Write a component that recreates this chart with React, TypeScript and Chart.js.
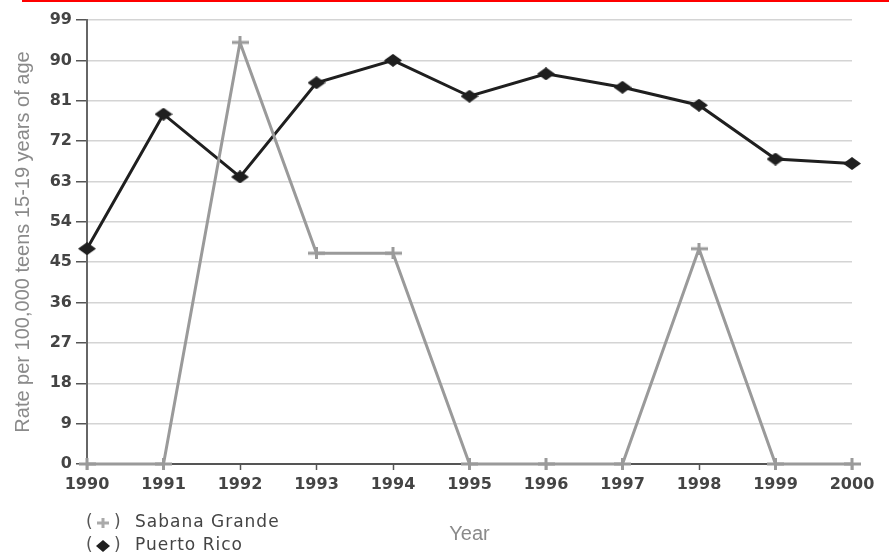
import { useEffect, useRef } from 'react';
import { Chart, registerables } from 'chart.js';

Chart.register(...registerables);

const years = ['1990', '1991', '1992', '1993', '1994', '1995', '1996', '1997', '1998', '1999', '2000'];
const sabanaGrande = [0, 0, 94, 47, 47, 0, 0, 0, 48, 0, 0];
const puertoRico = [48, 78, 64, 85, 90, 82, 87, 84, 80, 68, 67];
const yMin = 0;
const yMax = 99;
const yStep = 9;

const GRAY = '#9a9a9a';
const BLACK = '#1f1f1f';

function makeDiamond(w: number, h: number, color: string) {
  const c = document.createElement('canvas');
  c.width = w;
  c.height = h;
  const ctx = c.getContext('2d')!;
  ctx.fillStyle = color;
  ctx.beginPath();
  ctx.moveTo(w / 2, 0);
  ctx.lineTo(w, h / 2);
  ctx.lineTo(w / 2, h);
  ctx.lineTo(0, h / 2);
  ctx.closePath();
  ctx.fill();
  return c;
}

function makeCross(w: number, h: number, color: string, lw: number) {
  const c = document.createElement('canvas');
  c.width = w;
  c.height = h;
  const ctx = c.getContext('2d')!;
  ctx.strokeStyle = color;
  ctx.lineWidth = lw;
  ctx.beginPath();
  ctx.moveTo(0, h / 2);
  ctx.lineTo(w, h / 2);
  ctx.moveTo(w / 2, 0);
  ctx.lineTo(w / 2, h);
  ctx.stroke();
  return c;
}

const decorPlugin = {
  id: 'decor',
  afterDraw(chart: any) {
    const ctx = chart.ctx as CanvasRenderingContext2D;
    ctx.save();
    // top red rule
    ctx.fillStyle = '#ff0000';
    ctx.fillRect(22, 0, 889 - 22, 2);
    // custom legend
    const ds = chart.data.datasets;
    const rows = [523, 546];
    ctx.textBaseline = 'middle';
    ds.forEach((d: any, i: number) => {
      const y = rows[i];
      ctx.font = '17px "DejaVu Sans"';
      (ctx as any).letterSpacing = '0px';
      ctx.fillStyle = '#555';
      ctx.textAlign = 'left';
      ctx.fillText('(', 86, y);
      ctx.fillText(')', 114, y);
      if (i === 0) {
        ctx.strokeStyle = '#aaa';
        ctx.lineWidth = 3;
        ctx.beginPath();
        ctx.moveTo(97, y);
        ctx.lineTo(109, y);
        ctx.moveTo(103, y - 5);
        ctx.lineTo(103, y + 5);
        ctx.stroke();
      } else {
        ctx.fillStyle = BLACK;
        ctx.beginPath();
        ctx.moveTo(103, y - 6);
        ctx.lineTo(110, y);
        ctx.lineTo(103, y + 6);
        ctx.lineTo(96, y);
        ctx.closePath();
        ctx.fill();
      }
      (ctx as any).letterSpacing = '1px';
      ctx.fillStyle = '#444';
      ctx.fillText(d.label, 135, y);
    });
    ctx.restore();
  },
};

export default function App() {
  const ref = useRef<HTMLCanvasElement>(null);
  useEffect(() => {
    const canvas = ref.current!;
    const diamond = makeDiamond(18, 13, BLACK);
    const cross = makeCross(17, 12, GRAY, 3);
    const tickFont = { family: 'DejaVu Sans', size: 16, weight: 'bold' as const };
    const chart = new Chart(canvas, {
      type: 'line',
      data: {
        labels: years,
        datasets: [
          {
            label: 'Sabana Grande',
            data: sabanaGrande,
            borderColor: GRAY,
            backgroundColor: GRAY,
            borderWidth: 3,
            pointStyle: cross as any,
            pointRadius: 6,
            tension: 0,
            clip: false as any,
          },
          {
            label: 'Puerto Rico',
            data: puertoRico,
            borderColor: BLACK,
            backgroundColor: BLACK,
            borderWidth: 3,
            pointStyle: diamond as any,
            pointRadius: 7,
            tension: 0,
            clip: false as any,
          },
        ],
      },
      options: {
        responsive: false,
        animation: false,
        devicePixelRatio: 1,
        layout: { padding: { top: 20, right: 37, left: 0, bottom: 0 } },
        plugins: {
          legend: { display: false },
          tooltip: { enabled: false },
        },
        scales: {
          x: {
            type: 'category',
            offset: false,
            grid: {
              drawOnChartArea: false,
              drawTicks: true,
              tickLength: 6,
              tickColor: '#555',
              tickWidth: 1.5,
            },
            border: { color: '#555', width: 2 },
            ticks: {
              color: '#444',
              font: tickFont,
              padding: 5,
              maxRotation: 0,
              autoSkip: false,
            },
            title: {
              display: true,
              text: 'Year',
              color: '#8a8a8a',
              font: { family: 'Liberation Sans', size: 20 },
              padding: { top: 0, bottom: 8 },
            },
            afterFit: (s: any) => {
              s.height = 90;
            },
          },
          y: {
            min: yMin,
            max: yMax,
            ticks: {
              stepSize: yStep,
              color: '#444',
              font: tickFont,
              padding: 4,
            },
            grid: {
              color: '#d4d4d4',
              lineWidth: 1.5,
              tickColor: '#555',
              tickLength: 11,
            },
            border: { color: '#666', width: 2 },
            title: {
              display: true,
              text: 'Rate per 100,000 teens 15-19 years of age',
              color: '#8a8a8a',
              font: { family: 'Liberation Sans', size: 20 },
              padding: { top: 11, bottom: 0 },
            },
            afterFit: (s: any) => {
              s.width = 87;
            },
          },
        },
      },
      plugins: [decorPlugin],
    });
    return () => chart.destroy();
  }, []);
  return (
    <div style={{ position: 'absolute', left: 0, top: 0, width: 889, height: 554, background: '#fff' }}>
      <canvas ref={ref} width={889} height={554} style={{ display: 'block' }} />
    </div>
  );
}
